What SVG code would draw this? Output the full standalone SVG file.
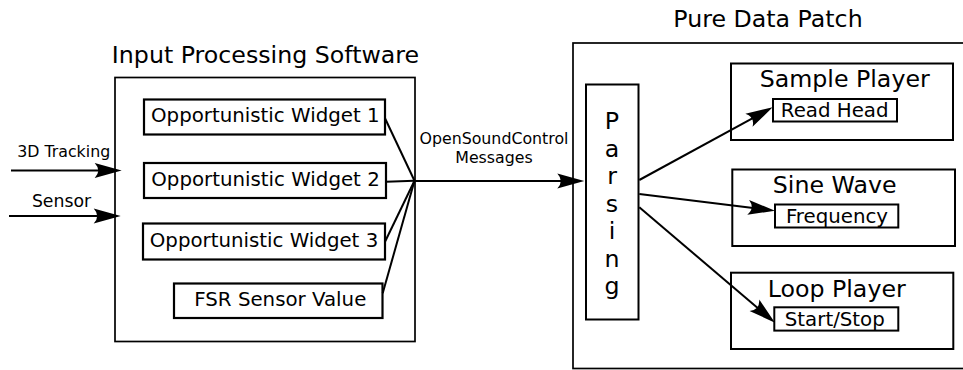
<svg xmlns="http://www.w3.org/2000/svg" width="963" height="370" viewBox="0 0 963 370">
<style>
text{font-family:"DejaVu Sans","Liberation Sans",sans-serif;fill:#000}
.big{font-size:23.7px;text-anchor:middle}
.mid{font-size:19.8px;text-anchor:middle}
.sm{font-size:15.8px;text-anchor:middle}
.outer{fill:#fff;stroke:#000;stroke-width:1.7}
.box{fill:#fff;stroke:#000;stroke-width:2.2}
.ibox{fill:#fff;stroke:#000;stroke-width:2}
.ln{fill:none;stroke:#000;stroke-width:2}
.arr{fill:none;stroke:#000;stroke-width:2;marker-end:url(#ah)}
</style>
<defs>
<marker id="ah" markerUnits="userSpaceOnUse" markerWidth="40" markerHeight="40" refX="0" refY="0" orient="auto" overflow="visible">
<path d="M20,0 L-7,-7.5 Q0,0 -7,7.5 Z" fill="#000"/>
</marker>
</defs>
<rect width="963" height="370" fill="#fff"/>

<g id="input-processing">
<rect class="outer" x="115" y="77.5" width="300" height="264"/>
<text class="big" x="265.5" y="63">Input Processing Software</text>
</g>
<g id="widget1">
<rect class="box" x="144" y="99.5" width="241" height="35"/>
<text class="mid" x="265.3" y="122">Opportunistic Widget 1</text>
</g>
<g id="widget2">
<rect class="box" x="144" y="163" width="242" height="35"/>
<text class="mid" x="265.5" y="186">Opportunistic Widget 2</text>
</g>
<g id="widget3">
<rect class="box" x="143" y="223.5" width="242" height="36"/>
<text class="mid" x="264" y="247">Opportunistic Widget 3</text>
</g>
<g id="fsr">
<rect class="box" x="174" y="283.5" width="208.5" height="34.5"/>
<text class="mid" x="280.3" y="306">FSR Sensor Value</text>
</g>

<g id="pure-data-patch">
<rect class="outer" x="573" y="43" width="420" height="325.5"/>
<text class="big" x="768" y="26.7">Pure Data Patch</text>
</g>
<g id="parsing">
<rect class="ibox" x="586" y="84.5" width="52.5" height="235"/>
<text class="big" x="612" y="129.3">P<tspan x="612" dy="27.5">a</tspan><tspan x="612" dy="27.5">r</tspan><tspan x="612" dy="27.5">s</tspan><tspan x="612" dy="27.5">i</tspan><tspan x="612" dy="27.5">n</tspan><tspan x="612" dy="27.5">g</tspan></text>
</g>
<g id="sample-player">
<rect class="ibox" x="731" y="63.5" width="222" height="76.5"/>
<text class="big" x="844.7" y="87.3">Sample Player</text>
<rect class="ibox" x="773" y="99" width="124" height="22.5"/>
<text class="mid" x="834.7" y="117.3">Read Head</text>
</g>
<g id="sine-wave">
<rect class="ibox" x="732.3" y="169.5" width="222.7" height="76.5"/>
<text class="big" x="834.7" y="193.3">Sine Wave</text>
<rect class="ibox" x="775" y="204.5" width="123.3" height="23"/>
<text class="mid" x="837" y="223.3">Frequency</text>
</g>
<g id="loop-player">
<rect class="ibox" x="731" y="272.7" width="222.3" height="76.3"/>
<text class="big" x="836.7" y="296.7">Loop Player</text>
<rect class="ibox" x="774.3" y="307.3" width="124" height="23.3"/>
<text class="mid" x="834.8" y="326">Start/Stop</text>
</g>

<g id="connectors">
<line class="arr" x1="11" y1="170.5" x2="101.7" y2="170.5"/>
<text class="sm" x="63.7" y="156.7">3D Tracking</text>
<line class="arr" x1="9" y1="216" x2="100.7" y2="216"/>
<text class="sm" x="61.5" y="206.7" style="font-size:17.3px">Sensor</text>
<line class="ln" x1="385" y1="118.3" x2="414.5" y2="180.7"/>
<line class="ln" x1="386" y1="181.7" x2="414.5" y2="180.7"/>
<line class="ln" x1="385" y1="241.7" x2="414.5" y2="180.7"/>
<line class="ln" x1="382.7" y1="293.3" x2="414.5" y2="180.7"/>
<line class="arr" x1="414.5" y1="181" x2="564.3" y2="181"/>
<text class="sm" x="494" y="144">OpenSoundControl</text>
<text class="sm" x="494" y="162.7">Messages</text>
<line class="arr" x1="639.3" y1="180" x2="755.1" y2="116.9"/>
<line class="arr" x1="639.3" y1="194" x2="755.15" y2="208.26"/>
<line class="arr" x1="639.3" y1="207.3" x2="759.76" y2="309.74"/>
</g>
</svg>
